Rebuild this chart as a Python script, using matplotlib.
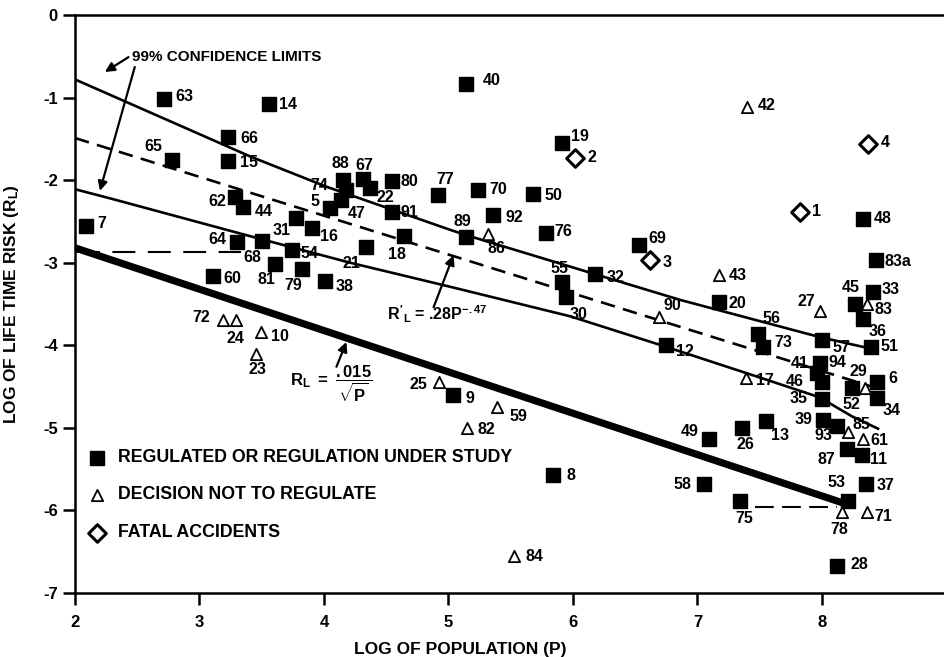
import matplotlib
matplotlib.use('Agg')
import matplotlib.pyplot as plt

plt.rcParams['font.family'] = ['Liberation Sans', 'DejaVu Sans']
plt.rcParams['font.weight'] = 'bold'
plt.rcParams['axes.unicode_minus'] = False
plt.rcParams['mathtext.fontset'] = 'custom'
plt.rcParams['mathtext.rm'] = 'Liberation Sans:bold'
plt.rcParams['mathtext.it'] = 'Liberation Sans:bold'
plt.rcParams['mathtext.bf'] = 'Liberation Sans:bold'
plt.rcParams['mathtext.sf'] = 'Liberation Sans:bold'

# regulated or regulation under study (filled squares)
reg_ids = ['63', '14', '66', '15', '65', '62', '44', '88', '67', '74', '5', '47', '22',
           '80', '77', '91', '31', '16', '18', '21', '54', '68', '64', '81', '79', '38',
           '7', '60', '40', '19', '70', '50', '92', '89', '76', '69', '55', '30', '32',
           '12', '9', '48', '83a', '20', '33', '45', '36', '56', '73', '57', '51', '94',
           '41', '46', '35', '52', '6', '34', '49', '26', '13', '39', '93', '87', '11',
           '58', '37', '75', '53', '28', '8']
reg_x = [2.715, 3.56, 3.23, 3.23, 2.78, 3.285, 3.35, 4.15, 4.31, 4.18, 4.05, 4.14, 4.37,
         4.55, 4.915, 4.55, 3.775, 3.90, 4.64, 4.335, 3.74, 3.50, 3.30, 3.61, 3.82, 4.01,
         2.09, 3.105, 5.14, 5.91, 5.24, 5.68, 5.36, 5.14, 5.78, 6.53, 5.91, 5.94, 6.18,
         6.75, 5.04, 8.33, 8.43, 7.17, 8.41, 8.265, 8.33, 7.49, 7.53, 8.00, 8.39, 7.98,
         7.96, 8.00, 8.00, 8.24, 8.445, 8.44, 7.095, 7.355, 7.55, 8.005, 8.12, 8.20, 8.32,
         7.05, 8.35, 7.34, 8.21, 8.12, 5.84]
reg_y = [-1.02, -1.08, -1.48, -1.77, -1.755, -2.20, -2.33, -2.00, -1.99, -2.12, -2.34, -2.24, -2.10,
         -2.01, -2.185, -2.39, -2.46, -2.58, -2.68, -2.81, -2.845, -2.74, -2.745, -3.01, -3.08, -3.22,
         -2.56, -3.16, -0.84, -1.545, -2.12, -2.17, -2.42, -2.69, -2.635, -2.78, -3.23, -3.41, -3.14,
         -3.995, -4.60, -2.47, -2.97, -3.48, -3.36, -3.50, -3.68, -3.86, -4.02, -3.94, -4.02, -4.21,
         -4.34, -4.45, -4.65, -4.52, -4.44, -4.64, -5.14, -5.00, -4.92, -4.90, -4.975, -5.25, -5.33,
         -5.68, -5.68, -5.88, -5.88, -6.67, -5.57]

# decision not to regulate (open triangles)
nreg_ids = ['72', '24', '10', '23', '86', '90', '25', '59', '82', '42', '43', '83', '27',
            '29', '17', '85', '61', '78', '71', '84']
nreg_x = [3.19, 3.29, 3.49, 3.45, 5.32, 6.69, 4.92, 5.39, 5.15, 7.40, 7.175, 8.36, 7.98,
          8.345, 7.39, 8.21, 8.33, 8.16, 8.36, 5.53]
nreg_y = [-3.69, -3.69, -3.84, -4.10, -2.65, -3.66, -4.45, -4.75, -5.00, -1.11, -3.15, -3.50, -3.58,
          -4.52, -4.40, -5.045, -5.14, -6.025, -6.025, -6.55]

# fatal accidents (open diamonds)
acc_ids = ['2', '3', '1', '4']
acc_x = [6.02, 6.62, 7.82, 8.37]
acc_y = [-1.73, -2.97, -2.38, -1.56]

# label offsets from the marker, in pixels (right, down)
label_off = {
    '63': (20, -3), '14': (19, 0), '66': (21, 1), '15': (21, 1), '65': (-19, -13),
    '62': (-18, 5), '44': (21, 4), '88': (-2, -17), '67': (2, -14), '74': (-27, -5),
    '5': (-15, -7), '47': (15, 14), '22': (15, 9), '80': (17, 1), '77': (7, -16),
    '91': (17, 0), '31': (-14, 12), '16': (17, 8), '18': (-7, 18), '21': (-14, 16),
    '54': (18, 4), '68': (-9, 16), '64': (-19, -2), '81': (-9, 16), '79': (-8, 16),
    '38': (19, 6), '7': (16, -3), '60': (20, 3), '40': (26, -4), '19': (18, -6),
    '70': (20, -1), '50': (20, 1), '92': (21, 3), '89': (-4, -16), '76': (18, -1),
    '69': (18, -6), '55': (-2, -13), '30': (13, 18), '32': (20, 3), '12': (19, 7),
    '9': (16, 4), '48': (20, 0), '83a': (22, 1), '20': (19, 1), '33': (18, -3),
    '45': (-4, -16), '36': (15, 13), '56': (13, -15), '73': (20, -4), '57': (19, 7),
    '51': (19, 0), '94': (18, 0), '41': (-17, -10), '46': (-27, -1), '35': (-23, 0),
    '52': (0, 16), '6': (15, -3), '34': (15, 12), '49': (-20, -8), '26': (4, 17),
    '13': (14, 14), '39': (-19, 0), '93': (-13, 10), '87': (-21, 11), '11': (17, 4),
    '58': (-21, 0), '37': (20, 1), '75': (4, 18), '53': (-12, -18), '28': (22, -1),
    '8': (18, 1),
    '72': (-22, -2), '24': (0, 19), '10': (19, 4), '23': (2, 16), '86': (8, 15),
    '90': (13, -12), '25': (-20, 2), '59': (21, 9), '82': (19, 2), '42': (19, -1),
    '43': (18, 0), '83': (17, 5), '27': (-13, -9), '29': (-7, -17), '17': (19, 2),
    '85': (13, -7), '61': (16, 1), '78': (-3, 17), '71': (17, 4), '84': (20, 1),
    '2': (16, 0), '3': (17, 2), '1': (17, 0), '4': (17, -1),
}

# 99% confidence limits
upper_x = [2.0, 3.41, 4.02, 5.01, 5.13, 6.18, 6.86, 7.98, 8.36]
upper_y = [-0.78, -1.715, -2.08, -2.60, -2.66, -3.14, -3.45, -3.90, -4.03]
lower_x = [2.0, 2.28, 3.41, 4.21, 5.01, 5.98, 6.73, 7.50, 7.98, 8.24, 8.45]
lower_y = [-2.11, -2.22, -2.68, -3.00, -3.29, -3.65, -4.01, -4.39, -4.63, -4.86, -5.01]
# R'L = .28 P^-.47 and RL = .015 / sqrt(P)
fit_x = [2.0, 8.42]
fit_y = [-1.49, -4.51]
rl_x = [2.0, 8.17]
rl_y = [-2.82, -5.91]
hl_x = [2.02, 3.33]
hl_y = [-2.875, -2.875]
hr_x = [7.46, 8.12]
hr_y = [-5.96, -5.96]

fig = plt.figure(figsize=(9.44, 6.57), dpi=100)
ax = fig.add_axes([75 / 944, 64 / 657, 869 / 944, 578 / 657])

ax.plot(upper_x, upper_y, color='black', lw=1.9, zorder=2)
ax.plot(lower_x, lower_y, color='black', lw=1.9, zorder=2)
ax.plot(fit_x, fit_y, color='black', lw=1.9, dashes=[5.5, 3.2], zorder=2)
ax.plot(rl_x, rl_y, color='black', lw=5.2, solid_capstyle='butt', zorder=2)
ax.plot(hl_x, hl_y, color='black', lw=1.5, dashes=[11, 6], zorder=2)
ax.plot(hr_x, hr_y, color='black', lw=1.5, dashes=[9, 4], zorder=2)

ax.scatter(reg_x, reg_y, marker='s', s=105, color='black', zorder=3)
ax.scatter(nreg_x, nreg_y, marker='^', s=66, facecolor='white', edgecolor='black',
           linewidths=1.3, zorder=3)
ax.scatter(acc_x, acc_y, marker='D', s=80, facecolor='white', edgecolor='black',
           linewidths=2.2, zorder=3)

for ids, xs, ys in [(reg_ids, reg_x, reg_y), (nreg_ids, nreg_x, nreg_y), (acc_ids, acc_x, acc_y)]:
    for lab, x, y in zip(ids, xs, ys):
        dx, dy = label_off[lab]
        ax.annotate(lab, (x, y), xytext=(dx * 0.72, -dy * 0.72), textcoords='offset points',
                    ha='center', va='center', fontsize=11.5, fontweight='bold', zorder=4)

# annotations
arr = dict(arrowstyle='-|>', color='black', lw=1.6, mutation_scale=14, shrinkA=0, shrinkB=0)
ax.text(2.46, -0.51, '99% CONFIDENCE LIMITS', fontsize=11, fontweight='bold', ha='left', va='center')
ax.annotate('', xy=(2.24, -0.69), xytext=(2.43, -0.51), arrowprops=arr)
ax.annotate('', xy=(2.20, -2.13), xytext=(2.48, -0.63), arrowprops=arr)

ax.text(4.51, -3.62, r"$R'_L$ = .28P$^{-.47}$", fontsize=11.5, ha='left', va='center')
ax.annotate('', xy=(5.04, -2.91), xytext=(4.88, -3.54), arrowprops=arr)

ax.text(3.73, -4.47, r"$R_L\ =\ \dfrac{.015}{\sqrt{P}}$", fontsize=12, ha='left', va='center')
ax.annotate('', xy=(4.18, -3.96), xytext=(4.10, -4.26), arrowprops=arr)

# legend
leg_y = [-5.363, -5.811, -6.271]
ax.scatter([2.177], [leg_y[0]], marker='s', s=105, color='black', zorder=3)
ax.scatter([2.177], [leg_y[1]], marker='^', s=66, facecolor='white', edgecolor='black',
           linewidths=1.3, zorder=3)
ax.scatter([2.177], [leg_y[2]], marker='D', s=80, facecolor='white', edgecolor='black',
           linewidths=2.2, zorder=3)
leg_txt = ['REGULATED OR REGULATION UNDER STUDY', 'DECISION NOT TO REGULATE', 'FATAL ACCIDENTS']
for t, y in zip(leg_txt, leg_y):
    ax.text(2.345, y, t, fontsize=12.8, fontweight='bold', ha='left', va='center')

ax.set_xlim(2, 8.98)
ax.set_ylim(-7, 0)
ax.set_xticks([2, 3, 4, 5, 6, 7, 8])
ax.set_yticks([0, -1, -2, -3, -4, -5, -6, -7])
ax.set_yticklabels(['0', '-1', '-2', '-3', '-4', '-5', '-6', '-7'])
ax.tick_params(direction='out', length=8.5, width=1.8, labelsize=12)
ax.tick_params(axis='x', pad=7)
ax.tick_params(axis='y', pad=4)
for lbl in ax.get_xticklabels() + ax.get_yticklabels():
    lbl.set_fontweight('bold')
for s in ['left', 'bottom', 'top']:
    ax.spines[s].set_linewidth(1.8)
ax.spines['right'].set_visible(False)

ax.set_xlabel('LOG OF POPULATION (P)', fontsize=12.5, fontweight='bold')
ax.set_ylabel(r'LOG OF LIFE TIME RISK (R$_L$)', fontsize=12.5, fontweight='bold')
ax.xaxis.set_label_coords(0.443, -0.085)
ax.yaxis.set_label_coords(-0.062, 0.5)

fig.savefig('out.png', dpi=100)
